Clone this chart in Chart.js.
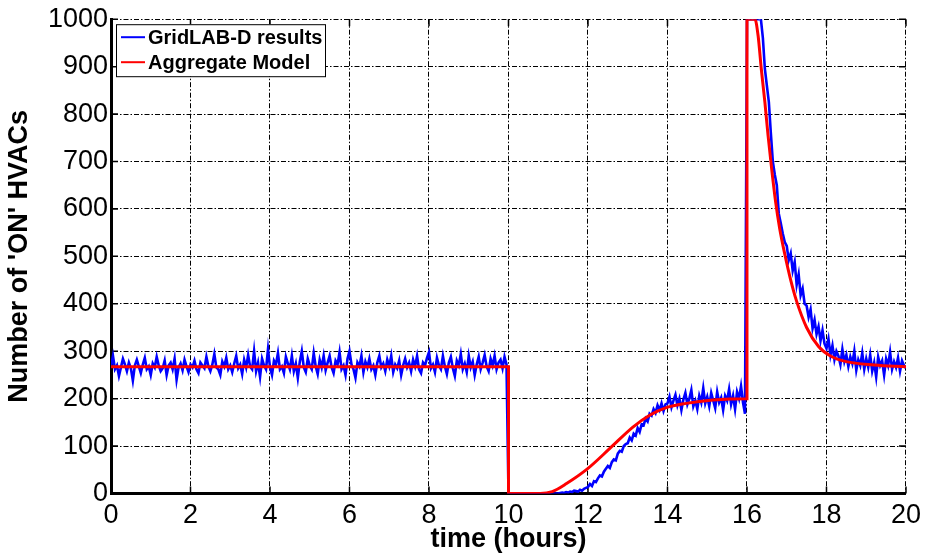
<!DOCTYPE html>
<html>
<head>
<meta charset="utf-8">
<title>ON HVACs - GridLAB-D vs Aggregate Model</title>
<script src="https://cdn.jsdelivr.net/npm/chart.js@4.4.0/dist/chart.umd.min.js"></script>
<style>
    html, body { margin: 0; padding: 0; background: #fff; }
    canvas { display: block; }
</style>
</head>
<body>
<canvas id="chart" width="927" height="560"></canvas>
<script>
// =======================
// Data
// =======================

// GridLAB-D output is sampled every 3 minutes
const SAMPLE_STEP = 0.05;

// 0 - 9.95 h : normal operation
const gridlabBefore = [
    268, 290, 262, 270, 248, 266, 284, 272, 258, 276,
    264, 238, 270, 282, 268, 254, 272, 286, 262, 268,
    250, 274, 266, 288, 270, 258, 264, 280, 250, 270,
    276, 262, 284, 240, 266, 274, 260, 282, 268, 256,
    272, 266, 280, 262, 254, 276, 270, 264, 288, 268,
    258, 272, 294, 266, 262, 250, 278, 268, 286, 262,
    270, 256, 274, 290, 264, 272, 252, 282, 266, 292,
    268, 262, 300, 258, 276, 246, 284, 270, 262, 304,
    266, 250, 280, 272, 296, 262, 268, 254, 288, 274,
    262, 290, 258, 274, 244, 278, 300, 266, 256, 284,
    270, 262, 296, 268, 252, 282, 266, 290, 260, 276,
    290, 266, 254, 280, 272, 298, 262, 270, 250, 284,
    300, 272, 262, 244, 276, 268, 290, 256, 278, 266,
    284, 262, 270, 250, 276, 290, 266, 274, 258, 282,
    268, 290, 256, 272, 264, 280, 250, 270, 284, 266,
    276, 258, 282, 268, 290, 262, 254, 276, 270, 286,
    298, 264, 272, 256, 286, 270, 262, 290, 268, 252,
    276, 288, 264, 248, 280, 270, 294, 262, 274, 256,
    290, 266, 278, 250, 272, 288, 262, 276, 292, 268,
    258, 284, 270, 290, 262, 276, 282, 264, 288, 272
];

// 10 - 15.95 h : units switched off, slow recovery
const gridlabOff = [
    0, 0, 0, 0, 0, 0, 0, 0, 0, 0,
    0, 0, 0, 0, 0, 0, 0, 0, 0, 0,
    0, 0, 0, 0, 0, 0, 1, 2, 1, 3,
    2, 4, 3, 6, 5, 4, 8, 6, 10, 12,
    14, 20, 16, 26, 24, 32, 38, 36, 46, 52,
    58, 54, 66, 72, 70, 84, 90, 88, 100, 104,
    106, 118, 112, 126, 122, 138, 130, 146, 144, 158,
    152, 168, 164, 178, 170, 186, 176, 190, 174, 188,
    190, 204, 182, 196, 208, 186, 200, 176, 198, 212,
    188, 200, 218, 184, 196, 178, 206, 192, 222, 190,
    204, 184, 212, 196, 180, 214, 192, 202, 176, 206,
    196, 220, 188, 206, 178, 214, 200, 226, 192, 168
];

// 16 - 20 h : release, payback peak and decay
const gridlabAfter = [
    1000, 1000, 1000, 1000, 1000, 1000, 1000, 1000, 960, 895,
    860, 825, 760, 700, 672, 650, 590, 570, 548, 530,
    522, 492, 506, 470, 488, 440, 462, 418, 432, 400,
    396, 372, 388, 348, 366, 336, 352, 322, 344, 316,
    306, 326, 292, 312, 282, 300, 290, 272, 304, 278,
    292, 268, 288, 274, 300, 260, 282, 270, 296, 262,
    284, 266, 292, 258, 276, 246, 288, 270, 280, 250,
    284, 270, 298, 262, 278, 266, 286, 258, 280, 270,
    264
];

// aggregate model (hours / number ON)
const aggHours = [
    0, 10, 10, 10.5, 10.8, 11.1, 11.46, 12.0, 12.55, 13.13, 13.55, 13.97,
    14.47, 15.14, 16.0, 16.0, 16.2, 16.28, 16.36, 16.45, 16.53, 16.62,
    16.72, 16.82, 16.95, 17.1, 17.25, 17.5, 17.8, 18.1, 18.5, 19.2, 20
];
const aggValues = [
    267, 267, 0, 0, 0, 4, 21, 53, 95, 140, 165, 181,
    190, 197, 200, 1000, 1000, 965, 895, 825, 755, 685,
    615, 560, 505, 450, 405, 350, 310, 290, 278, 271, 267
];

const xTicks = [0, 2, 4, 6, 8, 10, 12, 14, 16, 18, 20];
const yTicks = [0, 100, 200, 300, 400, 500, 600, 700, 800, 900, 1000];

// =======================
// Build points
// =======================
const gridlabValues = gridlabBefore.concat(gridlabOff, gridlabAfter);
const gridlabPoints = gridlabValues.map((v, i) => ({ x: Math.round(i * SAMPLE_STEP * 100) / 100, y: v }));
const aggPoints = aggHours.map((h, i) => ({ x: h, y: aggValues[i] }));

const FONT = '"Liberation Sans", Arial, Helvetica, sans-serif';
Chart.defaults.font.family = FONT;
Chart.defaults.color = '#000';

// =======================
// Plugins
// =======================

// MATLAB style ticks pointing into the plot box
const innerTicks = {
    id: 'innerTicks',
    beforeDatasetsDraw(chart) {
        const { ctx, chartArea: a, scales } = chart;
        const len = 7;
        ctx.save();
        ctx.strokeStyle = '#000';
        ctx.lineWidth = 1.5;
        ctx.beginPath();
        xTicks.forEach(t => {
            const px = scales.x.getPixelForValue(t);
            ctx.moveTo(px, a.bottom); ctx.lineTo(px, a.bottom - len);
            ctx.moveTo(px, a.top); ctx.lineTo(px, a.top + len);
        });
        yTicks.forEach(t => {
            const py = scales.y.getPixelForValue(t);
            ctx.moveTo(a.left, py); ctx.lineTo(a.left + len, py);
            ctx.moveTo(a.right, py); ctx.lineTo(a.right - len, py);
        });
        ctx.stroke();
        ctx.restore();
    }
};

// boxed legend in the upper left corner
const boxLegend = {
    id: 'boxLegend',
    afterDatasetsDraw(chart) {
        const { ctx, chartArea: a } = chart;
        const x = a.left + 5, y = a.top + 5;
        const w = 209, h = 52;
        ctx.save();
        ctx.fillStyle = '#fff';
        ctx.fillRect(x, y, w, h);
        ctx.strokeStyle = '#000';
        ctx.lineWidth = 1;
        ctx.strokeRect(x + 0.5, y + 0.5, w, h);
        ctx.font = 'bold 20px ' + FONT;
        ctx.textBaseline = 'middle';
        chart.data.datasets.forEach((ds, i) => {
            const ly = y + 13 + i * 25;
            ctx.strokeStyle = ds.borderColor;
            ctx.lineWidth = 2;
            ctx.beginPath();
            ctx.moveTo(x + 5, ly);
            ctx.lineTo(x + 29, ly);
            ctx.stroke();
            ctx.fillStyle = '#000';
            ctx.fillText(ds.label, x + 32, ly + 1);
        });
        ctx.restore();
    }
};

// =======================
// Chart
// =======================
const dashGrid = { color: '#000', width: 3, dash: [5, 2, 1.5, 2] };

new Chart(document.getElementById('chart'), {
    type: 'line',
    data: {
        datasets: [
            {
                label: 'GridLAB-D results',
                data: gridlabPoints,
                borderColor: '#0000ff',
                borderWidth: 2.6,
                pointRadius: 0,
                tension: 0,
                order: 2
            },
            {
                label: 'Aggregate Model',
                data: aggPoints,
                borderColor: '#ff0000',
                borderWidth: 3,
                pointRadius: 0,
                cubicInterpolationMode: 'monotone',
                order: 1
            }
        ]
    },
    options: {
        responsive: false,
        animation: false,
        devicePixelRatio: 1,
        layout: { padding: { top: 17, right: 21, left: 0, bottom: 0 } },
        plugins: {
            legend: { display: false },
            tooltip: { enabled: false }
        },
        scales: {
            x: {
                type: 'linear',
                min: 0,
                max: 20,
                afterBuildTicks: s => { s.ticks = xTicks.map(v => ({ value: v })); },
                afterFit: s => { s.height = 66.5; },
                ticks: { font: { size: 27 }, padding: 6, color: '#000', callback: v => String(v) },
                grid: { color: '#000', lineWidth: 1, drawTicks: false },
                border: dashGrid,
                title: {
                    display: true,
                    text: 'time (hours)',
                    font: { size: 27, weight: 'bold' },
                    padding: { top: 0, bottom: 4 },
                    color: '#000'
                }
            },
            y: {
                type: 'linear',
                min: 0,
                max: 1000,
                afterBuildTicks: s => { s.ticks = yTicks.map(v => ({ value: v })); },
                afterFit: s => { s.width = 111; },
                ticks: { font: { size: 27 }, padding: 3, color: '#000', callback: v => String(v) },
                grid: { color: '#000', lineWidth: 1, drawTicks: false },
                border: dashGrid,
                title: {
                    display: true,
                    text: "Number of 'ON' HVACs",
                    font: { size: 27, weight: 'bold' },
                    padding: { top: 3, bottom: 0 },
                    color: '#000'
                }
            }
        }
    },
    plugins: [innerTicks, boxLegend]
});
</script>
</body>
</html>
